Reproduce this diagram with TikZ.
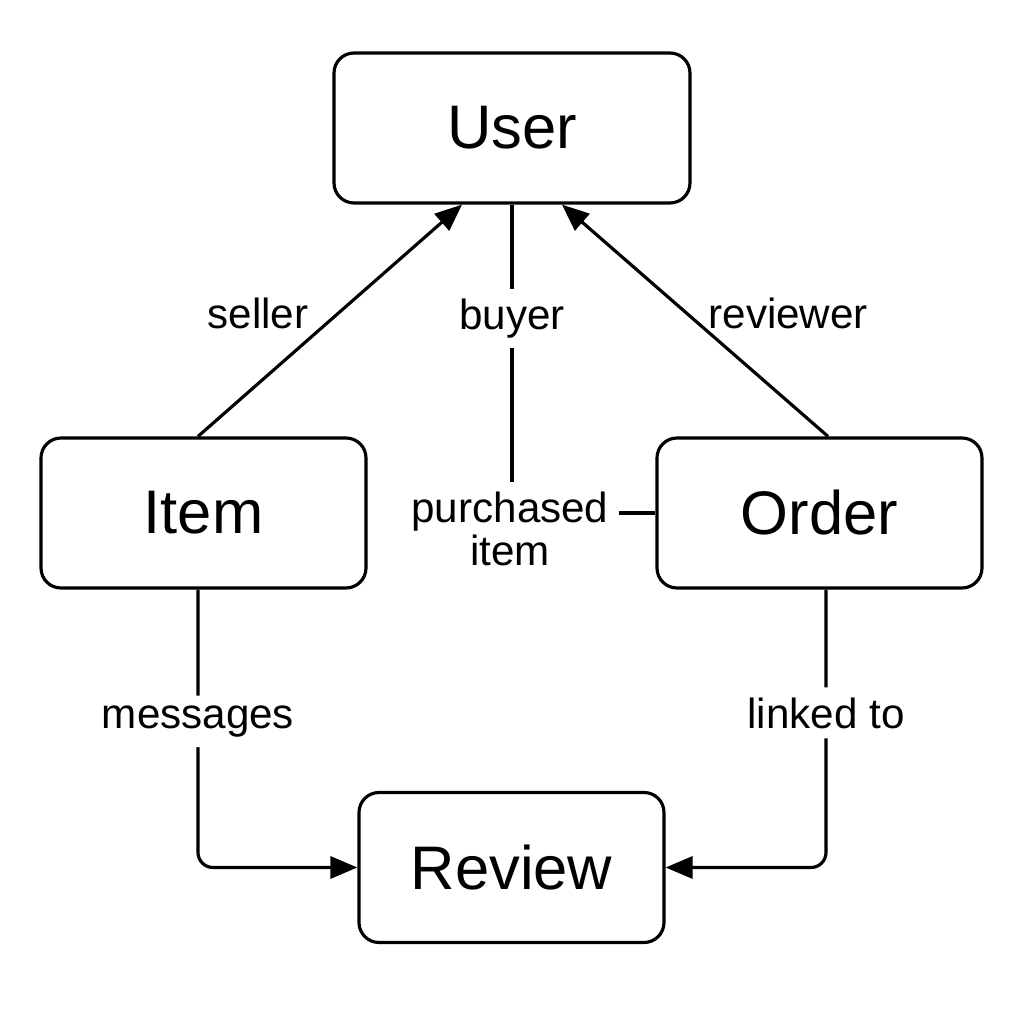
\documentclass[tikz,border=0pt]{standalone}
\usepackage{fontspec}
\setmainfont{Liberation Sans}
\usetikzlibrary{arrows.meta,positioning}
\begin{document}
\begin{tikzpicture}[scale=1,
        entity/.style={draw, line width=0.9pt, rounded corners=0.2cm, minimum width=#1, minimum height=1.5cm, font=\fontsize{17.5}{20}\selectfont},
        lbl/.style={font=\fontsize{12}{12}\selectfont, inner sep=0.1cm},
        link/.style={line width=0.9pt},
        arr/.style={link, -{Triangle[length=0.27cm, width=0.22cm]}}]
            \useasboundingbox (0, 0) rectangle (10.24, 10.24);

            \node[entity=3.56cm] (user) at (5.12, 8.96) {User};
            \node[entity=3.25cm] (item) at (2.035, 5.11) {Item};
            \node[entity=3.25cm] (order) at (8.195, 5.11) {Order};
            \node[entity=3.05cm] (review) at (5.115, 1.565) {Review};
            \node[lbl, align=center] (pitem) at (5.10, 4.95) {purchased\\item};

            \draw[arr] ([xshift=-0.055cm]item.north) -- node[lbl, pos=0.53, left=0.18cm] (seller) {seller} ([xshift=-0.5cm]user.south);
            \draw[arr] ([xshift=0.085cm]order.north) -- node[lbl, pos=0.53, right=0.1cm] (reviewer) {reviewer} ([xshift=0.5cm]user.south);
            \draw[link] (user.south) -- node[lbl, fill=white, pos=0.41] (buyer) {buyer} (user.south |- pitem.north);
            \draw[link] (order.west -| pitem.east) -- (order.west);

            \draw[arr, rounded corners=0.15cm] ([xshift=-0.055cm]item.south) |- node[lbl, fill=white, pos=0.237] (messages) {messages} (review.west);
            \draw[arr, rounded corners=0.15cm] ([xshift=0.065cm]order.south) |- node[lbl, fill=white, pos=0.222] (linked) {linked to} (review.east);
        \end{tikzpicture}
\end{document}
